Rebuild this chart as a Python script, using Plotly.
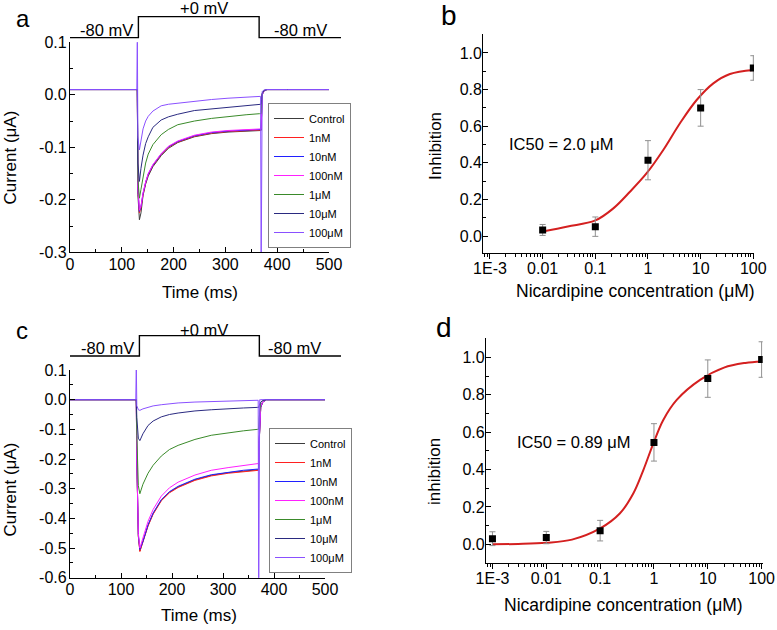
import plotly.graph_objects as go

W, H = 777, 630
FONT = "Liberation Sans, Arial, sans-serif"


def px(x):
    return x / W


def py(y):
    return 1 - y / H


# ---------------- data ----------------
trace_names = ["Control", "1nM", "10nM", "100nM", "1μM", "10μM", "100μM"]
trace_colors = ["#3c3c3c", "#ff2020", "#2020ff", "#ff20ff", "#3a8a2a", "#2a2a80", "#8a50ff"]

# Panel a: currents (μA) vs time (ms)
t_a = [0, 125, 129, 130, 131, 134, 137, 141, 146, 151, 160, 176, 190, 208, 240, 273, 305, 340,
       366, 368, 369, 370, 371, 374, 380, 420, 460, 500]
a_control = [0.01, 0.01, 0.01, 0.01, -0.19, -0.238, -0.225, -0.192, -0.17, -0.155, -0.137, -0.116, -0.102,
             -0.091, -0.08, -0.074, -0.071, -0.069, -0.068, -0.068, -0.068, -0.034, 0.0, 0.007, 0.01, 0.01,
             0.01, 0.01]
a_1nM = [0.01, 0.01, 0.01, 0.01, -0.18, -0.225, -0.215, -0.19, -0.168, -0.152, -0.135, -0.114, -0.1,
         -0.09, -0.079, -0.073, -0.07, -0.068, -0.067, -0.067, -0.067, -0.033, 0.0, 0.007, 0.01, 0.01,
         0.01, 0.01]
a_10nM = [0.01, 0.01, 0.01, 0.01, -0.178, -0.222, -0.213, -0.188, -0.167, -0.151, -0.134, -0.113, -0.099,
          -0.089, -0.078, -0.072, -0.069, -0.067, -0.066, -0.066, -0.066, -0.033, 0.0, 0.007, 0.01, 0.01,
          0.01, 0.01]
a_100nM = [0.01, 0.01, 0.01, 0.01, -0.176, -0.22, -0.212, -0.187, -0.166, -0.15, -0.133, -0.112, -0.098,
           -0.088, -0.077, -0.071, -0.068, -0.066, -0.065, -0.065, -0.065, -0.032, 0.0, 0.007, 0.01, 0.01,
           0.01, 0.01]
a_1uM = [0.01, 0.01, 0.01, 0.01, -0.16, -0.197, -0.18, -0.155, -0.13, -0.113, -0.095, -0.076, -0.066,
         -0.057, -0.05, -0.045, -0.041, -0.038, -0.036, -0.036, -0.036, -0.018, 0.002, 0.008, 0.01, 0.01,
         0.01, 0.01]
a_10uM = [0.01, 0.01, 0.01, 0.01, -0.13, -0.165, -0.14, -0.115, -0.093, -0.08, -0.062, -0.048, -0.042,
          -0.037, -0.03, -0.027, -0.024, -0.021, -0.018, -0.018, -0.018, -0.009, 0.003, 0.008, 0.01, 0.01,
          0.01, 0.01]
a_100uM = [0.01, 0.01, 0.01, 0.12, -0.08, -0.105, -0.085, -0.065, -0.05, -0.041, -0.031, -0.021, -0.018,
           -0.016, -0.012, -0.009, -0.0065, -0.0045, -0.003, -0.003, -0.35, 0.0, 0.006, 0.009, 0.01, 0.01,
           0.01, 0.01]
a_series = [a_control, a_1nM, a_10nM, a_100nM, a_1uM, a_10uM, a_100uM]

# Panel c: currents (μA) vs time (ms)
t_c = [0, 125, 129, 130, 131, 134, 137, 143, 153, 163, 179, 195, 212, 245, 277, 310, 340, 368,
       369, 370, 371, 372, 374, 378, 385, 420, 460, 500]
c_control = [0, 0, 0, 0, -0.2, -0.46, -0.51, -0.48, -0.424, -0.384, -0.339, -0.312, -0.294, -0.27,
             -0.255, -0.246, -0.24, -0.236, -0.236, -0.236, -0.14, -0.07, -0.025, -0.008, 0, 0, 0, 0]
c_1nM = [0, 0, 0, 0, -0.2, -0.46, -0.512, -0.482, -0.426, -0.386, -0.341, -0.314, -0.296, -0.272,
         -0.257, -0.248, -0.242, -0.238, -0.238, -0.238, -0.14, -0.07, -0.025, -0.008, 0, 0, 0, 0]
c_10nM = [0, 0, 0, 0, -0.2, -0.455, -0.505, -0.478, -0.422, -0.382, -0.337, -0.31, -0.292, -0.268,
          -0.253, -0.244, -0.238, -0.234, -0.234, -0.234, -0.14, -0.07, -0.025, -0.008, 0, 0, 0, 0]
c_100nM = [0, 0, 0, 0, -0.2, -0.45, -0.5, -0.465, -0.41, -0.37, -0.325, -0.297, -0.278, -0.254,
           -0.238, -0.229, -0.222, -0.215, -0.215, -0.215, -0.13, -0.065, -0.022, -0.007, 0, 0, 0, 0]
c_1uM = [0, 0, 0, 0, -0.12, -0.29, -0.317, -0.285, -0.248, -0.221, -0.19, -0.168, -0.154, -0.134,
         -0.12, -0.111, -0.105, -0.1, -0.1, -0.1, -0.06, -0.03, -0.01, -0.003, 0, 0, 0, 0]
c_10uM = [0, 0, 0, 0, -0.06, -0.13, -0.138, -0.115, -0.087, -0.072, -0.058, -0.05, -0.045, -0.038,
          -0.034, -0.03, -0.028, -0.026, -0.026, -0.026, -0.02, -0.014, -0.008, -0.003, 0, 0, 0, 0]
c_100uM = [0, 0, 0, 0.12, -0.02, -0.034, -0.036, -0.031, -0.025, -0.021, -0.017, -0.014, -0.011, -0.008,
           -0.006, -0.004, -0.003, -0.002, -0.002, -0.66, -0.01, 0.0, 0.0, 0.0, 0, 0, 0, 0]
c_series = [c_control, c_1nM, c_10nM, c_100nM, c_1uM, c_10uM, c_100uM]

# Voltage protocols (ms, mV)
prot_a_time = [0, 132, 132, 365, 365, 523]
prot_c_time = [0, 136, 136, 371, 371, 531]
prot_mV = [-80, -80, 0, 0, -80, -80]

# Panel b: dose response
b_conc = [0.01, 0.1, 1, 10, 100]
b_inh = [0.033, 0.051, 0.414, 0.70, 0.918]
b_err = [0.03, 0.053, 0.107, 0.10, 0.067]
fit_b_conc = [0.01, 0.03, 0.1, 0.22, 0.455, 0.944, 1.95, 4.05, 8.4, 17.4, 36, 100]
fit_b_inh = [0.025, 0.052, 0.085, 0.151, 0.242, 0.343, 0.47, 0.616, 0.743, 0.834, 0.885, 0.907]

# Panel d: dose response
d_conc = [0.001, 0.01, 0.1, 1, 10, 100]
d_inh = [0.030, 0.036, 0.073, 0.545, 0.886, 0.988]
d_err = [0.037, 0.033, 0.055, 0.10, 0.10, 0.095]
fit_d_conc = [0.001, 0.003, 0.01, 0.03, 0.1, 0.234, 0.415, 0.635, 0.975, 1.49, 2.65, 7.18, 20, 50, 100]
fit_d_inh = [0.0, 0.002, 0.008, 0.025, 0.085, 0.166, 0.273, 0.397, 0.54, 0.665, 0.772, 0.879, 0.945,
             0.97, 0.978]

# tick labels
time_ticks = [0, 100, 200, 300, 400, 500]
time_ticktext = ["0", "100", "200", "300", "400", "500"]
a_yticks = [-0.3, -0.2, -0.1, 0.0, 0.1]
a_yticktext = ["-0.3", "-0.2", "-0.1", "0.0", "0.1"]
c_yticks = [-0.6, -0.5, -0.4, -0.3, -0.2, -0.1, 0.0, 0.1]
c_yticktext = ["-0.6", "-0.5", "-0.4", "-0.3", "-0.2", "-0.1", "0.0", "0.1"]
conc_ticks = [0.001, 0.01, 0.1, 1, 10, 100]
conc_ticktext = ["1E-3", "0.01", "0.1", "1", "10", "100"]
inh_ticks = [0.0, 0.2, 0.4, 0.6, 0.8, 1.0]
inh_ticktext = ["0.0", "0.2", "0.4", "0.6", "0.8", "1.0"]

# ---------------- figure ----------------
fig = go.Figure()

for name, vals, col in zip(trace_names, a_series, trace_colors):
    fig.add_trace(go.Scatter(x=t_a, y=vals, mode="lines", name=name,
                             line=dict(color=col, width=1), xaxis="x", yaxis="y", legend="legend"))
for name, vals, col in zip(trace_names, c_series, trace_colors):
    fig.add_trace(go.Scatter(x=t_c, y=vals, mode="lines", name=name,
                             line=dict(color=col, width=1), xaxis="x2", yaxis="y2", legend="legend2"))

# protocols
fig.add_trace(go.Scatter(x=prot_a_time, y=prot_mV, mode="lines", line=dict(color="black", width=1.4),
                         xaxis="x5", yaxis="y5", showlegend=False))
fig.add_trace(go.Scatter(x=prot_c_time, y=prot_mV, mode="lines", line=dict(color="black", width=1.4),
                         xaxis="x6", yaxis="y6", showlegend=False))

# dose response b
fig.add_trace(go.Scatter(x=fit_b_conc, y=fit_b_inh, mode="lines",
                         line=dict(color="#d42020", width=2, shape="spline", smoothing=1.0),
                         xaxis="x3", yaxis="y3", showlegend=False))
fig.add_trace(go.Scatter(x=b_conc, y=b_inh, mode="markers",
                         marker=dict(symbol="square", size=7, color="black"),
                         error_y=dict(type="data", array=b_err, color="#909090", thickness=1, width=3),
                         xaxis="x3", yaxis="y3", showlegend=False))
# dose response d
fig.add_trace(go.Scatter(x=fit_d_conc, y=fit_d_inh, mode="lines",
                         line=dict(color="#d42020", width=2, shape="spline", smoothing=1.0),
                         xaxis="x4", yaxis="y4", showlegend=False))
fig.add_trace(go.Scatter(x=d_conc, y=d_inh, mode="markers",
                         marker=dict(symbol="square", size=7, color="black"),
                         error_y=dict(type="data", array=d_err, color="#909090", thickness=1, width=3),
                         xaxis="x4", yaxis="y4", showlegend=False))

tickfont = dict(family=FONT, size=16, color="black")
base_axis = dict(showline=True, linecolor="black", linewidth=1.3, showgrid=False, zeroline=False,
                 tickcolor="black", tickwidth=1, ticklen=5, tickfont=tickfont, tickmode="array",
                 automargin=False)
minor_in = dict(ticks="inside", ticklen=3, tickcolor="black", tickmode="linear")
minor_out = dict(ticks="outside", ticklen=3, tickcolor="black", tickmode="linear")

fig.update_layout(
    width=W, height=H, margin=dict(l=0, r=0, t=0, b=0, autoexpand=False),
    paper_bgcolor="white", plot_bgcolor="white",
    font=dict(family=FONT, color="black"),
    # panel a
    xaxis=dict(base_axis, domain=[px(70), px(329)], range=[0, 500], anchor="y",
               tickvals=time_ticks, ticktext=time_ticktext, ticks="inside", ticklabelstandoff=-3,
               minor=dict(minor_in, tick0=0, dtick=50)),
    yaxis=dict(base_axis, domain=[py(252.3), py(42.3)], range=[-0.3, 0.1], anchor="x",
               tickvals=a_yticks, ticktext=a_yticktext, ticks="inside", ticklabelstandoff=-1,
               minor=dict(minor_in, tick0=0, dtick=0.05)),
    # panel c
    xaxis2=dict(base_axis, domain=[px(70), px(325)], range=[0, 500], anchor="y2",
                tickvals=time_ticks, ticktext=time_ticktext, ticks="inside", ticklabelstandoff=-3,
                minor=dict(minor_in, tick0=0, dtick=50)),
    yaxis2=dict(base_axis, domain=[py(577.7), py(370)], range=[-0.6, 0.1], anchor="x2",
                tickvals=c_yticks, ticktext=c_yticktext, ticks="inside", ticklabelstandoff=-1,
                minor=dict(minor_in, tick0=0, dtick=0.05)),
    # panel b
    xaxis3=dict(base_axis, type="log", domain=[px(483.3), px(754)], range=[-3.127, 2.013], anchor="y3",
                tickvals=conc_ticks, ticktext=conc_ticktext, ticks="outside", ticklabelstandoff=-5,
                minor=dict(minor_out, dtick="D1")),
    yaxis3=dict(base_axis, domain=[py(253.3), py(34.3)], range=[-0.0945, 1.102], anchor="x3",
                tickvals=inh_ticks, ticktext=inh_ticktext, ticks="inside", ticklabelstandoff=-3,
                minor=dict(minor_in, tick0=0, dtick=0.1)),
    # panel d
    xaxis4=dict(base_axis, type="log", domain=[px(486), px(762.7)], range=[-3.12, 2.02], anchor="y4",
                tickvals=conc_ticks, ticktext=conc_ticktext, ticks="outside", ticklabelstandoff=-5,
                minor=dict(minor_out, dtick="D1")),
    yaxis4=dict(base_axis, domain=[py(563.3), py(338.3)], range=[-0.1016, 1.1016], anchor="x4",
                tickvals=inh_ticks, ticktext=inh_ticktext, ticks="inside", ticklabelstandoff=-3,
                minor=dict(minor_in, tick0=0, dtick=0.1)),
    # protocol strips
    xaxis5=dict(visible=False, domain=[px(70), px(341)], range=[0, 523], anchor="y5"),
    yaxis5=dict(visible=False, domain=[py(40.3), py(3.5)], range=[-90, 50], anchor="x5"),
    xaxis6=dict(visible=False, domain=[px(70), px(341)], range=[0, 531], anchor="y6"),
    yaxis6=dict(visible=False, domain=[py(358.5), py(325.5)], range=[-90, 40], anchor="x6"),
    legend=dict(x=px(268), y=py(248), xanchor="left", yanchor="bottom", bordercolor="#808080",
                borderwidth=1, bgcolor="white", font=dict(family=FONT, size=11, color="black"),
                itemwidth=30, tracegroupgap=0),
    legend2=dict(x=px(269), y=py(573), xanchor="left", yanchor="bottom", bordercolor="#808080",
                 borderwidth=1, bgcolor="white", font=dict(family=FONT, size=11, color="black"),
                 itemwidth=30, tracegroupgap=0),
)

ann = []


def paper_text(text, x, y, size, angle=0):
    ann.append(dict(text=text, x=px(x), y=py(y), xref="paper", yref="paper", showarrow=False,
                    xanchor="center", yanchor="middle", textangle=angle,
                    font=dict(family=FONT, size=size, color="black")))


# panel letters
paper_text("a", 22.5, 18.4, 24)
paper_text("b", 449, 15.2, 28)
paper_text("c", 21.5, 330, 24)
paper_text("d", 443.5, 327, 28)
# axis titles
paper_text("Time (ms)", 199.5, 292, 17)
paper_text("Current (μA)", 9.5, 158, 17, -90)
paper_text("Time (ms)", 199, 615, 17)
paper_text("Current (μA)", 9.5, 490, 17, -90)
paper_text("Nicardipine concentration (μM)", 635.5, 291, 17.5)
paper_text("Inhibition", 435, 146, 17, -90)
paper_text("Nicardipine concentration (μM)", 623, 605, 17.5)
paper_text("inhibition", 434, 471, 17, -90)
# IC50 labels
paper_text("IC50 = 2.0 μM", 560.5, 144, 16.5)
paper_text("IC50 = 0.89 μM", 574, 442, 16.5)

# protocol labels in protocol-axis coordinates
for (txt, t, mv) in [("-80 mV", 71, -49), ("+0 mV", 259, 32), ("-80 mV", 444, -49)]:
    ann.append(dict(text=txt, x=t, y=mv, xref="x5", yref="y5", showarrow=False,
                    xanchor="center", yanchor="middle", font=dict(family=FONT, size=16.5, color="black")))
for (txt, t, mv) in [("-80 mV", 73.5, -50), ("+0 mV", 263, 23.5), ("-80 mV", 439, -50)]:
    ann.append(dict(text=txt, x=t, y=mv, xref="x6", yref="y6", showarrow=False,
                    xanchor="center", yanchor="middle", font=dict(family=FONT, size=16.5, color="black")))

fig.update_layout(annotations=ann)

fig.write_html("out.html", config={"displayModeBar": False},
               post_script="document.body.style.margin='0px';")
